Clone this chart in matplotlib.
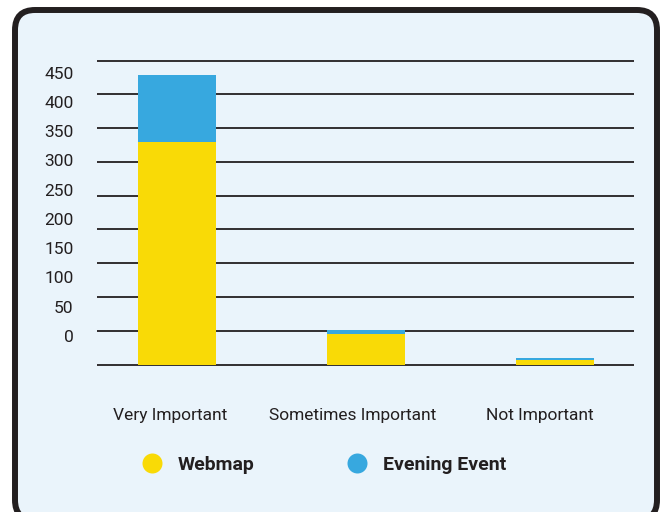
import matplotlib.pyplot as plt
from matplotlib.lines import Line2D
from matplotlib.patches import FancyBboxPatch
from matplotlib.transforms import ScaledTranslation

categories = ["Very Important", "Sometimes Important", "Not Important"]
webmap = [330, 45, 7]
evening = [99, 6, 3]
y_ticks = [0, 50, 100, 150, 200, 250, 300, 350, 400, 450]

YELLOW = "#F9DA06"
BLUE = "#37A8DF"
DARK = "#231F20"
BG = "#EAF4FB"

plt.rcParams["font.family"] = ["Roboto", "DejaVu Sans"]

W, H = 662, 512
fig = plt.figure(figsize=(W / 100, H / 100), dpi=100)
fig.patch.set_facecolor("white")

# rounded panel behind everything
panel = FancyBboxPatch((0.15, -0.08), 6.42, 5.10,
                       boxstyle="round,pad=0,rounding_size=0.2",
                       transform=fig.dpi_scale_trans,
                       facecolor=BG, edgecolor=DARK, linewidth=4.3,
                       zorder=-1)
fig.add_artist(panel)

# main plotting area (gridlines + bars)
ax = fig.add_axes([97 / W, (H - 364.5) / H, 537 / W, 303.8 / H])
ax.set_facecolor("none")
for s in ax.spines.values():
    s.set_visible(False)
ax.set_ylim(0, 450)
ax.set_xlim(-0.423, 2.418)
ax.hlines(y_ticks, -0.423, 2.418, color=DARK, linewidth=1.3,
          clip_on=False, zorder=1)

x = list(range(len(categories)))
ax.bar(x, webmap, width=0.413, color=YELLOW, zorder=2)
ax.bar(x, evening, width=0.413, bottom=webmap, color=BLUE, zorder=2)

ax.set_yticks([])
ax.set_xticks(x)
ax.set_xticklabels(categories, fontsize=12.5, color=DARK)
ax.tick_params(axis="x", length=0, pad=31)
# category captions sit a little left of the bar centres
for lbl, dx in zip(ax.get_xticklabels(), [-7, -13, -15]):
    lbl.set_transform(lbl.get_transform()
                      + ScaledTranslation(dx / 100, 0, fig.dpi_scale_trans))

# value labels on the left
lab = fig.add_axes([97 / W, (H - 336) / H, 0.01, 263.3 / H])
lab.set_facecolor("none")
for s in lab.spines.values():
    s.set_visible(False)
lab.set_ylim(0, 450)
lab.set_yticks(y_ticks)
lab.set_yticklabels([str(v) for v in y_ticks], fontsize=12.5, color=DARK)
lab.tick_params(axis="y", length=0, pad=17)
lab.set_xticks([])

handles = [
    Line2D([], [], marker="o", linestyle="none", markersize=14.4,
           markerfacecolor=YELLOW, markeredgecolor="none"),
    Line2D([], [], marker="o", linestyle="none", markersize=14.4,
           markerfacecolor=BLUE, markeredgecolor="none"),
]
fig.legend(handles, ["Webmap", "Evening Event"], loc="center left",
           bbox_to_anchor=(142 / W, (H - 465) / H), ncol=2, frameon=False,
           prop={"size": 14, "weight": "bold"}, labelcolor=DARK,
           handletextpad=0.86, columnspacing=4.74, borderaxespad=0,
           borderpad=0, handlelength=1.0)

fig.savefig("out.png", dpi=100)
